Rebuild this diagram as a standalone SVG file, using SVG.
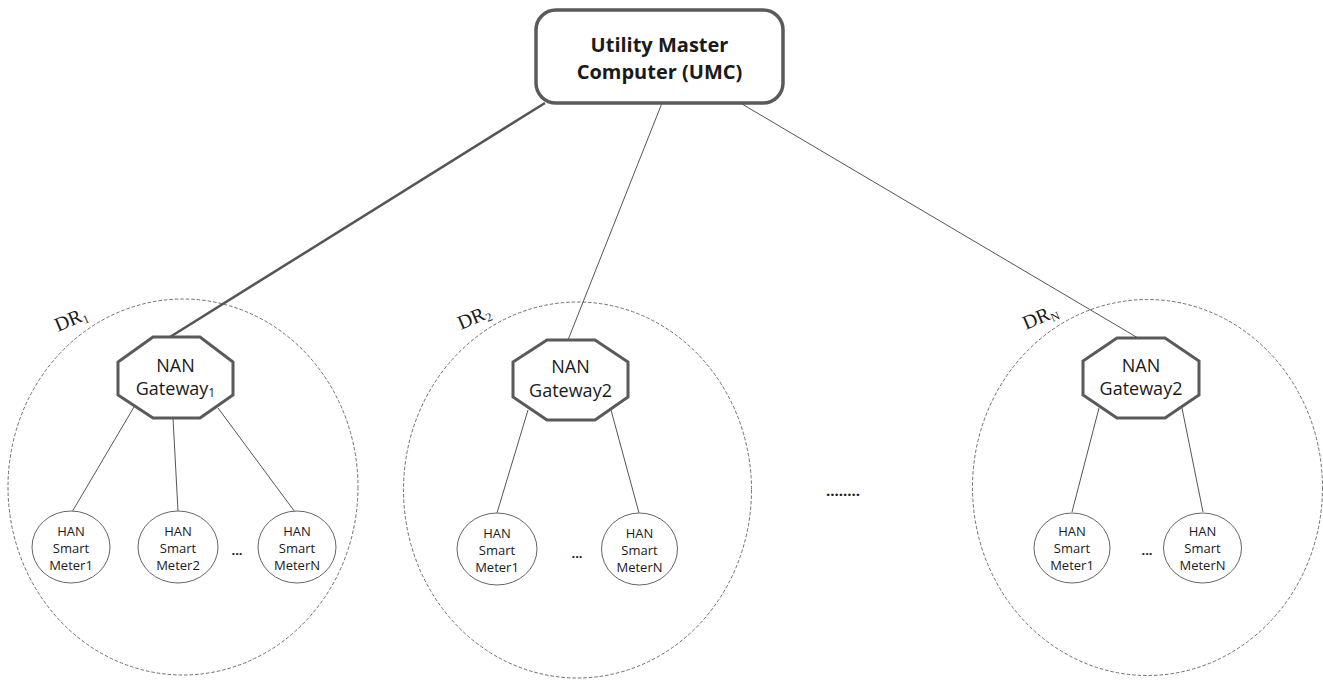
<svg xmlns="http://www.w3.org/2000/svg" width="1323" height="680" viewBox="0 0 1323 680">
<style>
.region{fill:none;stroke:#5f5f5f;stroke-width:0.9;stroke-dasharray:3.5 2}
.gw{fill:#fff;stroke:#5a5a5a;stroke-width:3}
.meter{fill:#fff;stroke:#666;stroke-width:1}
.umc{fill:#fff;stroke:#5a5a5a;stroke-width:3.5}
.link{stroke:#555;stroke-width:1;fill:none}
.thick{stroke:#555;stroke-width:2.5;fill:none}
.t{font-family:"Open Sans","Liberation Sans",sans-serif;fill:#1a1a1a;text-anchor:middle}
.tb{font-weight:bold;font-size:20px}
.tg{font-size:18px}
.tm{font-size:13px}
.dr{font-family:"Liberation Serif","Times New Roman",serif;font-size:20px;fill:#1a1a1a}
</style>
<rect width="1323" height="680" fill="#fff"/>
<g id="regions">
<ellipse class="region" cx="183" cy="487" rx="175" ry="188"/>
<ellipse class="region" cx="577.5" cy="490" rx="174" ry="188"/>
<ellipse class="region" cx="1147.5" cy="487.5" rx="175" ry="188"/>
<text class="dr" transform="translate(58,332) rotate(-23)">DR<tspan font-size="12" dy="3">1</tspan></text>
<text class="dr" transform="translate(461,330) rotate(-23)">DR<tspan font-size="12" dy="3">2</tspan></text>
<text class="dr" transform="translate(1026,330) rotate(-23)">DR<tspan font-size="12" dy="3">N</tspan></text>
</g>
<g id="connectors">
<line class="thick" x1="545" y1="103" x2="170" y2="337"/>
<line class="link" x1="662" y1="103" x2="568" y2="340"/>
<line class="link" x1="742" y1="104" x2="1138" y2="338"/>
<line class="link" x1="134" y1="407" x2="72" y2="512"/>
<line class="link" x1="173" y1="418" x2="178" y2="511"/>
<line class="link" x1="218" y1="408" x2="295" y2="512"/>
<line class="link" x1="528" y1="410" x2="497" y2="513"/>
<line class="link" x1="611" y1="410" x2="639" y2="513"/>
<line class="link" x1="1099" y1="408" x2="1072" y2="512"/>
<line class="link" x1="1182" y1="408" x2="1203" y2="512"/>
</g>
<g id="umc">
<rect class="umc" x="536" y="10" width="247" height="93" rx="20"/>
<text class="t tb" x="659.5" y="52">Utility Master</text>
<text class="t tb" x="659.5" y="79">Computer (UMC)</text>
</g>
<g id="gateway1">
<polygon class="gw" points="153,337 200,337 233,362 233,395 200,418 153,418 118,395 118,362"/>
<text class="t tg" x="175.5" y="372">NAN</text>
<text class="t tg" x="175.5" y="395">Gateway<tspan font-size="12" dy="2">1</tspan></text>
</g>
<g id="gateway2">
<polygon class="gw" points="547,340 595,340 628,362 628,397 595,420 547,420 513,397 513,362"/>
<text class="t tg" x="570.5" y="373">NAN</text>
<text class="t tg" x="570.5" y="397">Gateway2</text>
</g>
<g id="gatewayN">
<polygon class="gw" points="1117,338 1165,338 1199,361 1199,395 1165,418 1117,418 1083,395 1083,361"/>
<text class="t tg" x="1141" y="372">NAN</text>
<text class="t tg" x="1141" y="395">Gateway2</text>
</g>
<g id="dr1-meter1">
<ellipse class="meter" cx="71" cy="547" rx="39" ry="36"/>
<text class="t tm" x="71" y="536">HAN</text><text class="t tm" x="71" y="553">Smart</text><text class="t tm" x="71" y="570">Meter1</text>
</g>
<g id="dr1-meter2">
<ellipse class="meter" cx="178" cy="547" rx="40" ry="36"/>
<text class="t tm" x="178" y="536">HAN</text><text class="t tm" x="178" y="553">Smart</text><text class="t tm" x="178" y="570">Meter2</text>
</g>
<g id="dr1-meterN">
<ellipse class="meter" cx="297" cy="547" rx="39" ry="36"/>
<text class="t tm" x="297" y="536">HAN</text><text class="t tm" x="297" y="553">Smart</text><text class="t tm" x="297" y="570">MeterN</text>
</g>
<g id="dr2-meter1">
<ellipse class="meter" cx="497" cy="549" rx="40" ry="36"/>
<text class="t tm" x="497" y="538">HAN</text><text class="t tm" x="497" y="555">Smart</text><text class="t tm" x="497" y="572">Meter1</text>
</g>
<g id="dr2-meterN">
<ellipse class="meter" cx="639.5" cy="549" rx="38" ry="36"/>
<text class="t tm" x="639.5" y="538">HAN</text><text class="t tm" x="639.5" y="555">Smart</text><text class="t tm" x="639.5" y="572">MeterN</text>
</g>
<g id="drN-meter1">
<ellipse class="meter" cx="1072" cy="548" rx="38" ry="35"/>
<text class="t tm" x="1072" y="536">HAN</text><text class="t tm" x="1072" y="553">Smart</text><text class="t tm" x="1072" y="570">Meter1</text>
</g>
<g id="drN-meterN">
<ellipse class="meter" cx="1202.5" cy="548" rx="39" ry="35"/>
<text class="t tm" x="1202.5" y="536">HAN</text><text class="t tm" x="1202.5" y="553">Smart</text><text class="t tm" x="1202.5" y="570">MeterN</text>
</g>
<g id="ellipses">
<text class="t tm" font-weight="bold" x="237" y="555">...</text>
<text class="t tm" font-weight="bold" x="577" y="558">...</text>
<text class="t tm" font-weight="bold" x="1147" y="555">...</text>
<text class="t" font-weight="bold" font-size="15" text-anchor="start" x="843" y="496">........</text>
</g>
</svg>
